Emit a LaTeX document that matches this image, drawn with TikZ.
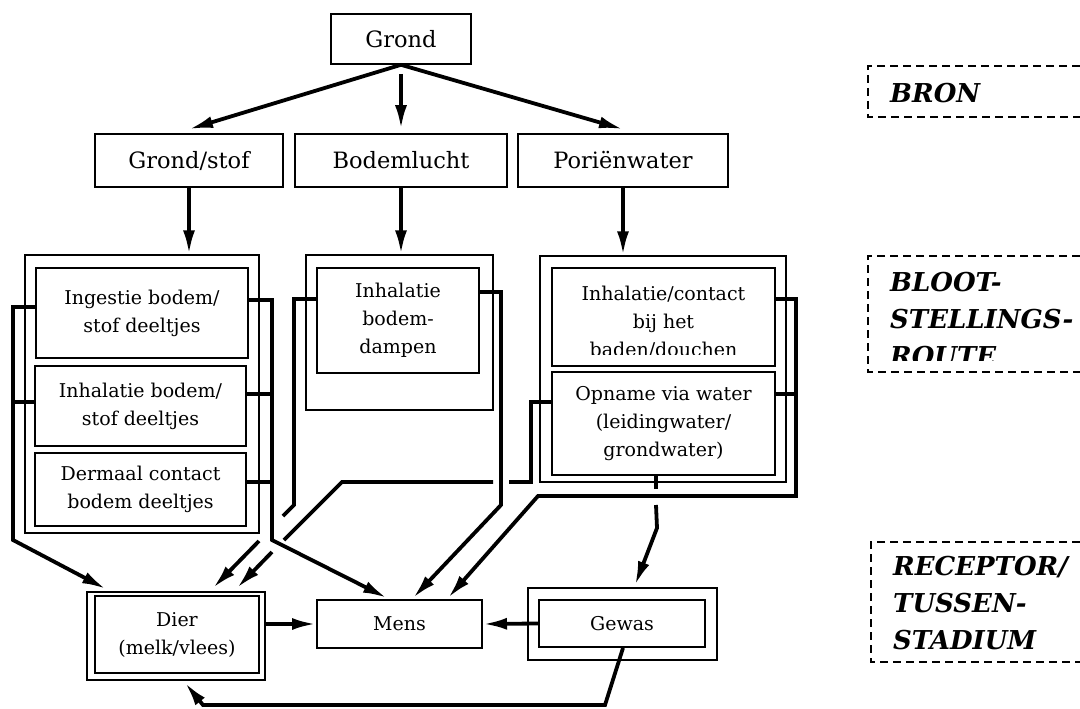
\documentclass[tikz,border=0pt]{standalone}
\usepackage{fontspec}
\setmainfont{DejaVu Serif}
\usetikzlibrary{arrows.meta,calc}
\newcommand\bx[7]{\node[#1,minimum width={(#5-#3)*1pt},minimum height={(#6-#4)*1pt}] (#2) at ({(#3+#5)/2},{(#4+#6)/2}) {#7};}
\tikzset{
  bxs/.style={draw,line width=1.6pt,inner sep=0pt,align=center,font=\fontsize{22.5}{28}\selectfont},
  inbx/.style={draw,line width=2pt,inner sep=0pt,align=center,font=\fontsize{19}{28}\selectfont},
  outbx/.style={draw,line width=1.4pt,inner sep=0pt},
  txt/.style={inner sep=0pt,align=center,font=\fontsize{19}{28}\selectfont},
  conn/.style={line width=3.8pt},
  arr/.style={conn,-{Latex[length=24pt,width=12pt]}},
  lab/.style={dash pattern=on 8pt off 5pt,line width=1.5pt},
  labtxt/.style={inner sep=0pt,align=left,font=\fontsize{26}{37}\selectfont\bfseries\itshape}
}
\begin{document}
\begin{tikzpicture}[x=1pt,y=-1pt]
\useasboundingbox (0,0) rectangle (1080,709);
% top rows
\bx{bxs}{grond}{331}{14}{471}{64}{Grond}
\bx{bxs}{gs}{95}{134}{283}{187}{Grond/stof}
\bx{bxs}{bl}{295}{134}{507}{187}{Bodemlucht}
\bx{bxs}{pw}{518}{134}{728}{187}{Poriënwater}
\draw[arr] (grond.south) -- ([yshift=4pt]gs.north);
\draw[arr] ([yshift=-9pt]grond.south) -- ([yshift=4pt]bl.north);
\draw[arr] (grond.south) -- ([yshift=4pt]pw.north);
% route boxes
\bx{outbx}{L}{25}{255}{259}{533}{}
\bx{inbx}{ing}{36}{268}{248}{358}{Ingestie bodem/\\stof deeltjes}
\bx{inbx}{inh}{35}{366}{246}{446}{Inhalatie bodem/\\stof deeltjes}
\bx{inbx}{derm}{35}{453}{246}{526}{Dermaal contact\\bodem deeltjes}
\bx{outbx}{M}{306}{255}{493}{410}{}
\bx{inbx}{bda}{317}{268}{479}{373}{Inhalatie\\bodem-\\dampen}
\bx{outbx}{R}{540}{256}{786}{482}{}
\bx{inbx}{ibd}{552}{268}{775}{366}{}
\begin{scope}
\clip (552,268) rectangle (775,354);
\node[txt,anchor=north] (ibdT) at (663.5,286) {Inhalatie/contact\\bij het\\baden/douchen};
\end{scope}
\bx{inbx}{opn}{552}{372}{775}{475}{Opname via water\\(leidingwater/\\grondwater)}
\draw[arr] (gs.south) -- (gs.south |- L.north);
\draw[arr] (bl.south) -- (bl.south |- M.north);
\draw[arr] (pw.south) -- (pw.south |- R.north);
% receptors
\bx{outbx}{dierO}{87}{592}{265}{680}{}
\bx{inbx}{dier}{95}{596}{259}{673}{Dier\\(melk/vlees)}
\bx{inbx}{mens}{317}{600}{482}{648}{Mens}
\bx{outbx}{gewO}{528}{588}{717}{660}{}
\bx{inbx}{gew}{539}{600}{705}{647}{Gewas}
% connectors
\coordinate (tipD1) at (106,589);
\coordinate (tipD2) at (213,588);
\coordinate (tipD3) at (237,588);
\coordinate (tipM1) at (387,598);
\coordinate (tipM2) at (413,598);
\coordinate (tipM3) at (448,598);
\draw[arr] (ing.west |- 0,307) -- (13,307) -- (13,540) -- (tipD1);
\draw[conn] (inh.west |- 0,402) -- (13,402);
\draw[arr] (ing.east |- 0,300) -- (272,300) -- (272,540) -- (tipM1);
\draw[conn] (inh.east |- 0,394) -- (272,394);
\draw[conn] (derm.east |- 0,482) -- (272,482);
\draw[conn] (bda.west |- 0,299) -- (294,299) -- (294,505) -- (283,516);
\draw[arr] (259,541) -- (tipD2);
\draw[conn] (opn.west |- 0,402) -- (531,402) -- (531,482) -- (509,482);
\draw[conn] (493,482) -- (342,482) -- (284,540);
\draw[arr] (272,552) -- (tipD3);
\draw[arr] (bda.east |- 0,292) -- (501,292) -- (501,505) -- (tipM2);
\draw[arr] (ibd.east |- 0,299) -- (796,299) -- (796,496) -- (538,496) -- (tipM3);
\draw[conn] (opn.east |- 0,394) -- (796,394);
\draw[conn] (opn.south -| 656,0) -- (656,489);
\draw[arr] (656,505) -- (657,528) -- ([yshift=2pt]gewO.north -| 635,0);
\draw[arr] (dierO.east |- mens.west) -- (mens.west);
\draw[arr] (gew.west) -- (mens.east);
\draw[arr] (gew.south -| 623,0) -- (605,705) -- (203,705) -- ([yshift=-2pt]dierO.south -| 185,0);
% side labels
\node[labtxt,anchor=north west] (bron) at (890,83) {BRON};
\draw[lab] (1080,66) -| (868,117) -- (1080,117);
\begin{scope}
\clip (868,256) rectangle (1080,360);
\node[labtxt,anchor=north west] (bloot) at (890,272) {BLOOT-\\STELLINGS-\\ROUTE};
\end{scope}
\draw[lab] (1080,256) -| (868,372) -- (1080,372);
\node[labtxt,anchor=north west] (rec) at (893,556) {RECEPTOR/\\TUSSEN-\\STADIUM};
\draw[lab] (1080,542) -| (871,662) -- (1080,662);
\end{tikzpicture}
\end{document}
